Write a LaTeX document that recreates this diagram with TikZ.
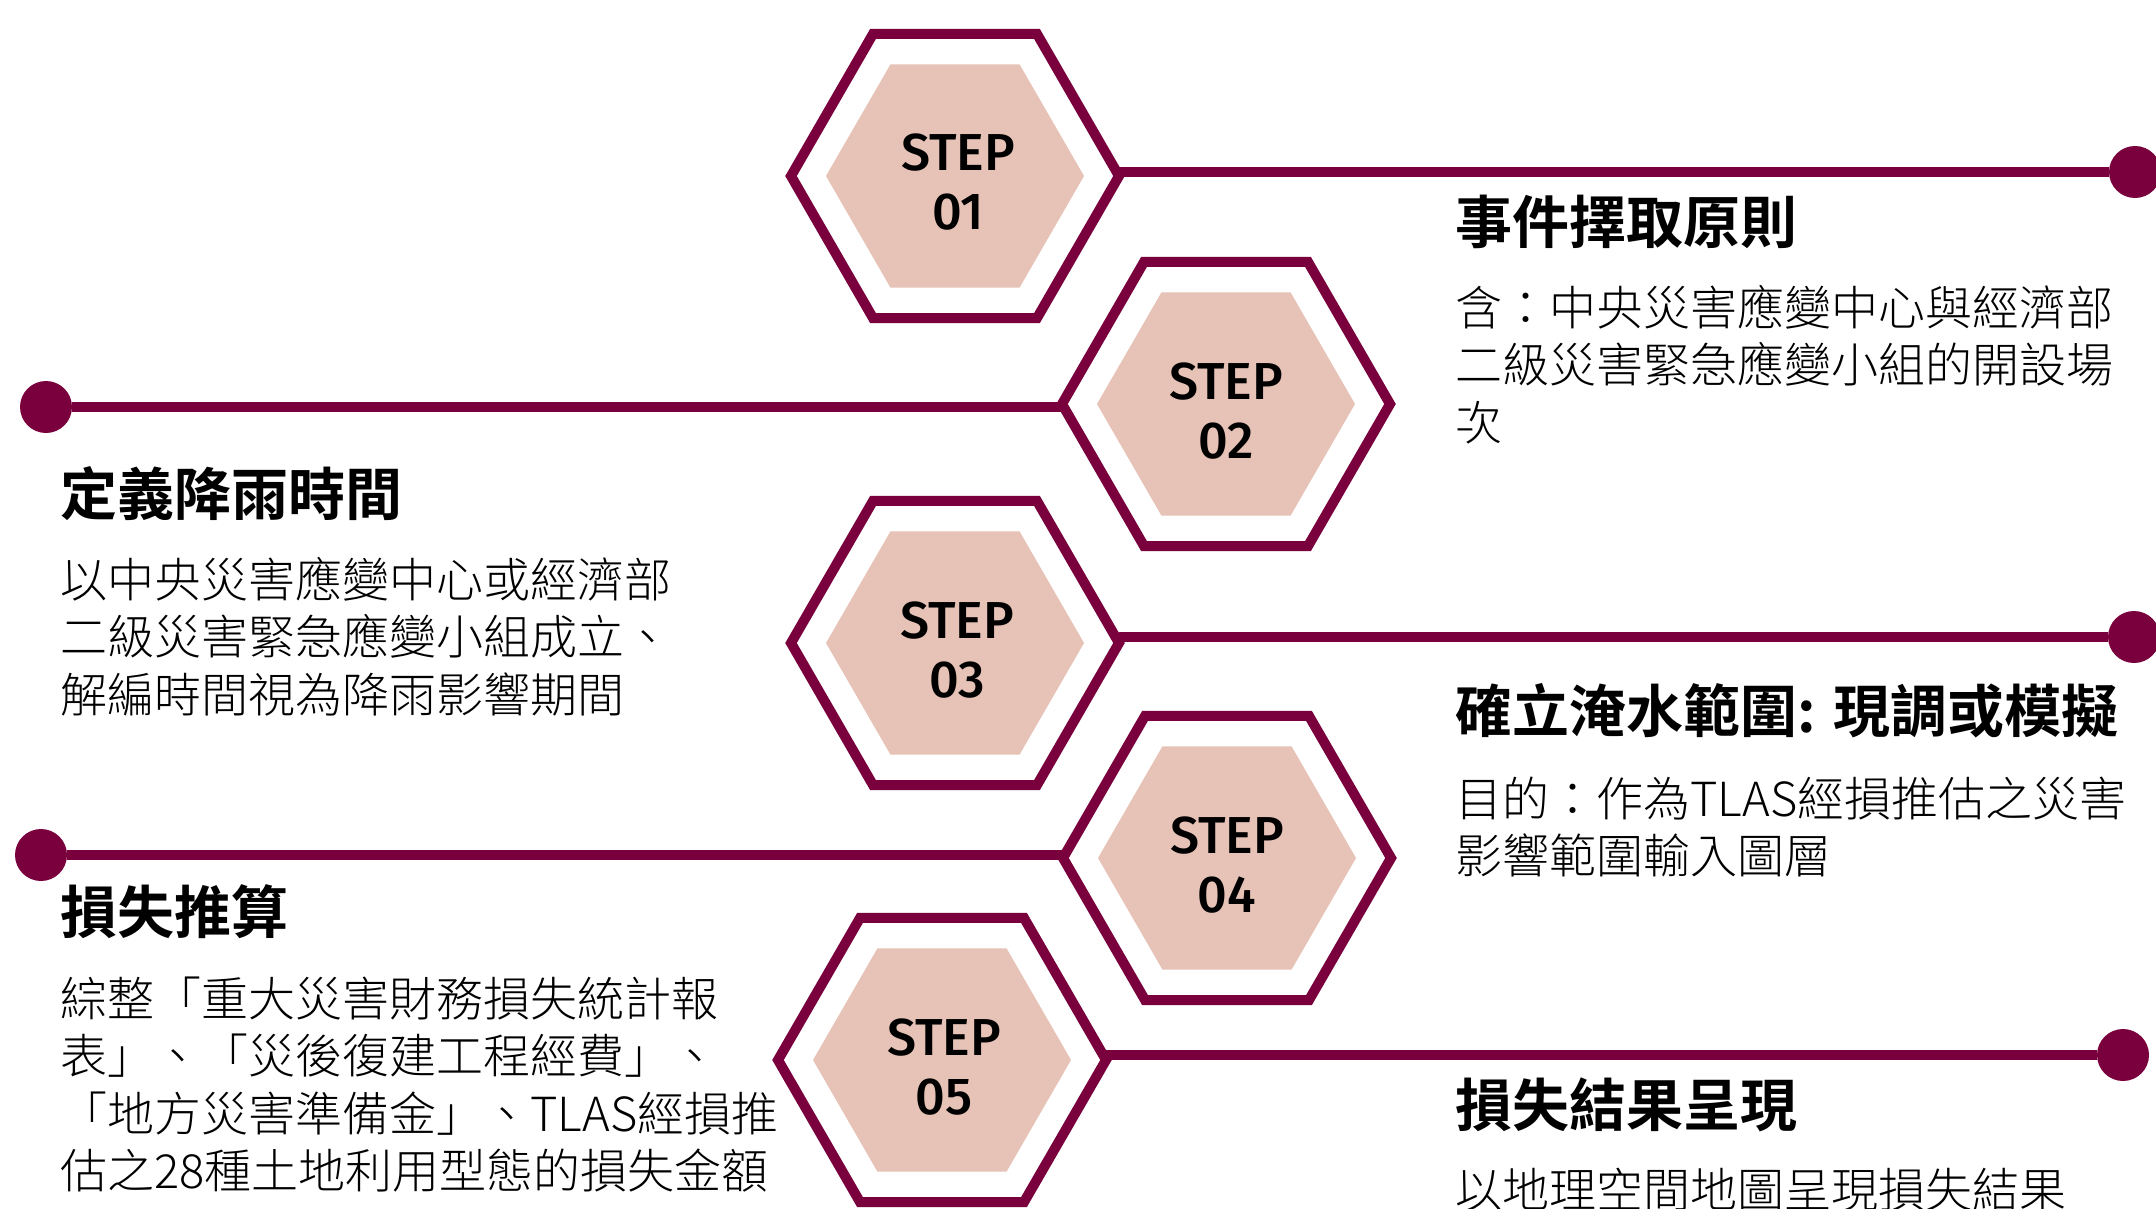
\documentclass[tikz,border=0pt]{standalone}
\usepackage{fontspec}
\usetikzlibrary{shapes.geometric}
\newfontfamily\cjktitle{Noto Sans CJK TC Bold}
\newfontfamily\cjkbody{Noto Sans CJK TC Light}
\newfontfamily\stepfont{Fira Sans Medium}
\definecolor{maroon}{RGB}{122,0,61}
\definecolor{hexpink}{RGB}{231,194,182}
\begin{document}
\begin{tikzpicture}[x=0.5pt,y=-0.5pt,
  outerhex/.style={regular polygon, regular polygon sides=6, minimum size=164pt, inner sep=0pt, outer sep=0pt, draw=maroon, line width=5pt},
  innerhex/.style={regular polygon, regular polygon sides=6, minimum size=129pt, inner sep=0pt, outer sep=0pt, fill=hexpink},
  steplabel/.style={font=\stepfont\fontsize{26pt}{30pt}\selectfont, anchor=base, inner sep=0pt},
  enddot/.style={circle, fill=maroon, minimum size=26pt, inner sep=0pt, outer sep=0pt},
  conn/.style={draw=maroon, line width=5pt},
  ttl/.style={font=\cjktitle\fontsize{28.5pt}{34pt}\selectfont, anchor=base west, inner sep=0pt},
  bodytext/.style={font=\cjkbody\fontsize{23.5pt}{28.75pt}\selectfont, anchor=base west, inner sep=0pt, text width=420pt, align=left},
]
\useasboundingbox[fill=white] (0,0) rectangle (2156,1209);

% hexagons
\node[outerhex] (h1) at (955,176) {};
\node[innerhex] (i1) at (h1) {};
\node[outerhex] (h2) at (1226,404) {};
\node[innerhex] (i2) at (h2) {};
\node[outerhex] (h3) at (955,643) {};
\node[innerhex] (i3) at (h3) {};
\node[outerhex] (h4) at (1227,858) {};
\node[innerhex] (i4) at (h4) {};
\node[outerhex] (h5) at (942,1060) {};
\node[innerhex] (i5) at (h5) {};

% step labels
\node[steplabel] (s1a) at (958,171) {STEP};
\node[steplabel] (s1b) at (958,230) {01};
\node[steplabel] (s2a) at (1226,399) {STEP};
\node[steplabel] (s2b) at (1226,458) {02};
\node[steplabel] (s3a) at (957,638) {STEP};
\node[steplabel] (s3b) at (957,697) {03};
\node[steplabel] (s4a) at (1227,853) {STEP};
\node[steplabel] (s4b) at (1227,912) {04};
\node[steplabel] (s5a) at (944,1055) {STEP};
\node[steplabel] (s5b) at (944,1114) {05};

% end dots
\node[enddot] (d1) at (2135,172) {};
\node[enddot] (d2) at (46,407) {};
\node[enddot] (d3) at (2134,637) {};
\node[enddot] (d4) at (41,855) {};
\node[enddot] (d5) at (2123,1055) {};

% connectors
\draw[conn] (h1.east |- d1) -- (d1);
\draw[conn] (d2) -- (d2 -| h2.west);
\draw[conn] (h3.east |- d3) -- (d3);
\draw[conn] (d4) -- (d4 -| h4.west);
\draw[conn] (h5.east |- d5) -- (d5);

% texts
\node[ttl] (t1) at (1455,243) {事件擇取原則};
\node[bodytext] (b1) at (1455,325) {含：中央災害應變中心與經濟部\\二級災害緊急應變小組的開設場\\次};

\node[ttl] (t2) at (60,515) {定義降雨時間};
\node[bodytext] (b2) at (60,597) {以中央災害應變中心或經濟部\\二級災害緊急應變小組成立、\\解編時間視為降雨影響期間};

\node[ttl] (t3) at (1455,732) {確立淹水範圍: 現調或模擬};
\node[bodytext] (b3) at (1455,816) {目的：作為TLAS經損推估之災害\\影響範圍輸入圖層};

\node[ttl] (t4) at (60,933) {損失推算};
\node[bodytext] (b4) at (60,1016) {綜整「重大災害財務損失統計報\\表」、「災後復建工程經費」、\\「地方災害準備金」、TLAS經損推\\估之28種土地利用型態的損失金額};

\node[ttl] (t5) at (1455,1126) {損失結果呈現};
\node[bodytext] (b5) at (1455,1207) {以地理空間地圖呈現損失結果};
\end{tikzpicture}
\end{document}
